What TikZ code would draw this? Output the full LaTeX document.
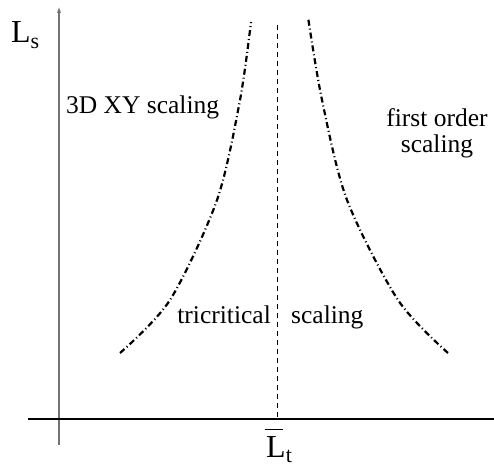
\documentclass[tikz,border=0pt]{standalone}
\usepackage{fontspec}
\setmainfont{Liberation Serif}
\usetikzlibrary{arrows.meta}

\newcommand{\subtxt}[1]{\raisebox{-0.17em}{\fontsize{22}{22}\selectfont #1}}
\newcommand{\barL}{\rlap{\hspace{-0.05em}\raisebox{0.84em}{\rule{0.56em}{0.05em}}}L}

\begin{document}
\begin{tikzpicture}[x=1pt, y=-1pt,
  axis/.style={line width=1.2pt},
  crit/.style={line width=2.2pt, dash pattern=on 6pt off 3pt on 1pt off 3pt},
  divide/.style={line width=0.8pt, dash pattern=on 5pt off 4pt},
  lbl/.style={font=\rmfamily\fontsize{25.5}{26}\selectfont, inner sep=0pt},
  axlbl/.style={font=\rmfamily\fontsize{32}{32}\selectfont, inner sep=0pt}
]
  \useasboundingbox (0,0) rectangle (494,468);

  % axes
  \coordinate (ybot) at (59,445);
  \coordinate (ytop) at (59,5);
  \coordinate (xleft) at (28,419);
  \coordinate (xright) at (494,419);
  \draw[axis, gray!90!black, line width=2pt, -{Latex[length=8pt,width=4pt]}] (ybot) -- (ytop);
  \draw[axis] (xleft) -- (xright);

  % tricritical line
  \coordinate (ttop) at (277,25);
  \coordinate (tbot) at (277,419);
  \draw[divide] (ttop) -- (tbot);

  % crossover lines
  \draw[crit] plot[smooth] coordinates {(120,353) (170,300) (217,200) (240,100) (251,22)};
  \draw[crit] plot[smooth] coordinates {(448,353) (398,300) (347,200) (322,100) (308,17)};

  % labels
  \node[axlbl, anchor=base west] (ls) at (11,43) {L\subtxt{s}};
  \node[axlbl, anchor=base west] (lt) at (266,457) {\barL\subtxt{t}};
  \node[lbl, anchor=base west] (xy) at (66,113) {3D XY scaling};
  \node[lbl, align=center] (first) at (437,133) {first order\\scaling};
  \node[lbl, anchor=base east] (tri) at (271,323) {tricritical};
  \node[lbl, anchor=base west] (sc) at (291,323) {scaling};
\end{tikzpicture}
\end{document}
